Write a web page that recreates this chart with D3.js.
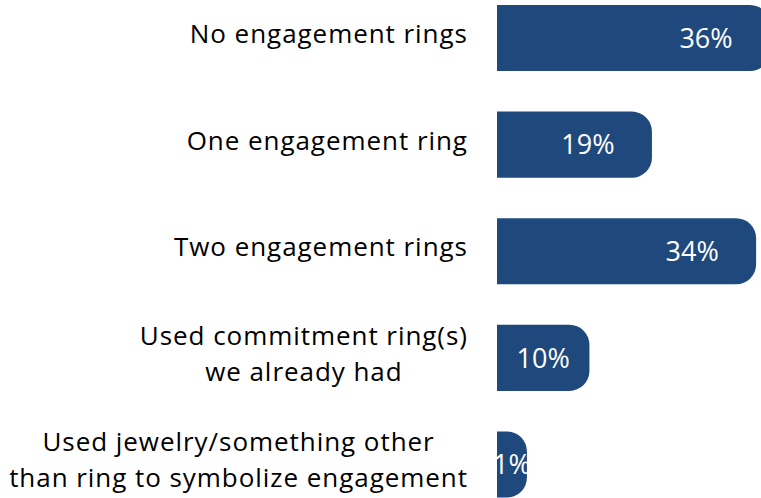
<!DOCTYPE html>
<html>
<head>
<meta charset="utf-8">
<script src="https://cdn.jsdelivr.net/npm/d3@7"></script>
<style>
  html, body { margin: 0; padding: 0; background: #fff; }
  svg { display: block; }
  text { font-family: "Open Sans", Lato, sans-serif; }
</style>
</head>
<body>
<svg id="chart" width="761" height="498"></svg>
<script>
const categories = [
  ["No engagement rings"],
  ["One engagement ring"],
  ["Two engagement rings"],
  ["Used commitment ring(s)", "we already had"],
  ["Used jewelry/something other", "than ring to symbolize engagement"]
];
const values = [36, 19, 34, 10, 1];
const valueLabels = ["36%", "19%", "34%", "10%", "1%"];

const W = 761, H = 498;
const barColor = "#1f497d";
const barStart = 497;
const labelRight = 467;
const radius = 20;
const catFont = 26;
const catSpacing = 0.95;
const valFont = 27;
const lineGap = 36;

const svg = d3.select("#chart");

const x = d3.scaleLinear().domain([0, 36]).range([520, 770]);
const y = d3.scaleBand()
  .domain(d3.range(categories.length))
  .range([-15.25, 517.75])
  .paddingInner(0.38)
  .paddingOuter(0.19);

function barPath(x0, x1, y0, h, r) {
  const w = x1 - x0;
  r = Math.min(r, w, h / 2);
  return `M${x0},${y0}H${x1 - r}A${r},${r} 0 0 1 ${x1},${y0 + r}` +
         `V${y0 + h - r}A${r},${r} 0 0 1 ${x1 - r},${y0 + h}H${x0}Z`;
}

const rows = svg.selectAll("g.row")
  .data(values.map((v, i) => ({ v, i, cat: categories[i], lab: valueLabels[i] })))
  .join("g").attr("class", "row");

rows.append("path")
  .attr("fill", barColor)
  .attr("d", d => barPath(barStart, x(d.v), y(d.i), y.bandwidth(), radius));

rows.append("text")
  .attr("fill", "#ffffff")
  .attr("font-size", valFont)
  .attr("text-anchor", "middle")
  .attr("x", d => {
    const r = x(d.v);
    return Math.max((barStart + r) / 2, r - 64);
  })
  .attr("y", d => y(d.i) + y.bandwidth() / 2 + valFont * 0.36)
  .text(d => d.lab);

rows.each(function(d) {
  const g = d3.select(this);
  const cy = y(d.i) + y.bandwidth() / 2;
  const n = d.cat.length;
  const t = g.append("text")
    .attr("fill", "#000")
    .attr("font-size", catFont)
    .attr("letter-spacing", catSpacing)
    .attr("text-anchor", "middle");
  const spans = t.selectAll("tspan").data(d.cat).join("tspan")
    .attr("y", (s, k) => cy + 5 + (k - (n - 1) / 2) * lineGap)
    .text(s => s);
  let maxW = 0;
  spans.each(function() { maxW = Math.max(maxW, this.getComputedTextLength() - catSpacing); });
  spans.attr("x", labelRight - maxW / 2 + catSpacing / 2);
});
</script>
</body>
</html>
